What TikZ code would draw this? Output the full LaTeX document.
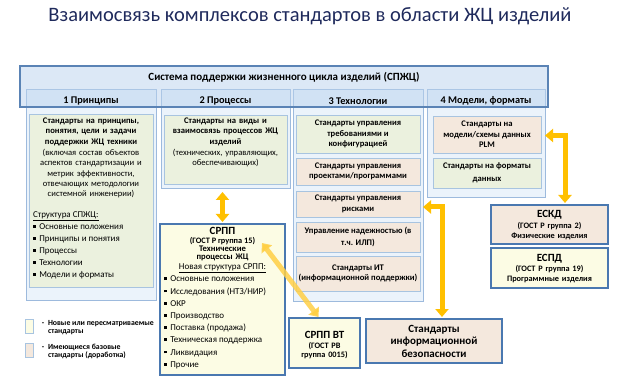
\documentclass[tikz,border=0pt]{standalone}
\usepackage{fontspec}
\setmainfont{Carlito}
\usetikzlibrary{arrows.meta}
\definecolor{navy}{HTML}{1F2A5C}
\definecolor{colfill}{HTML}{EBF3FB}
\definecolor{colborder}{HTML}{9DBADD}
\definecolor{bannerfill}{HTML}{B9D2EE}
\definecolor{bannerborder}{HTML}{5A83B5}
\definecolor{greenfill}{HTML}{EBF1DE}
\definecolor{innerborder}{HTML}{A8C4E0}
\definecolor{beigefill}{HTML}{F4E8DD}
\definecolor{yellowfill}{HTML}{FCFCE4}
\definecolor{thickborder}{HTML}{4A78B0}
\definecolor{gold}{HTML}{FFC000}
\definecolor{lightgold}{HTML}{FFCF45}
\newcommand{\blt}{\rule[0.18em]{2.8pt}{2.8pt}\hspace{3.5pt}}
\tikzset{
  base/.style={inner sep=0pt, outer sep=0pt, align=center},
  colbox/.style={base, draw=colborder, fill=colfill, line width=0.8pt},
  greenbox/.style={base, draw=innerborder, fill=greenfill, line width=0.7pt},
  beigebox/.style={base, draw=innerborder, fill=beigefill, line width=0.7pt},
  thickbox/.style={base, draw=thickborder, line width=1.6pt},
  body/.style={font=\fontsize{8.6}{10.6}\selectfont\bfseries},
  small/.style={font=\fontsize{8.3}{9.5}\selectfont\bfseries},
  big/.style={font=\fontsize{11}{13}\selectfont\bfseries},
  header/.style={base, font=\fontsize{10.3}{12}\selectfont\bfseries},
  goldarrow/.style={draw=gold, line width=5pt, {Triangle[width=13pt,length=8pt]}-{Triangle[width=13pt,length=8pt]}},
}
\begin{document}
\begin{tikzpicture}[x=1pt,y=-1pt]
\useasboundingbox (0,0) rectangle (624,390);
% title
\node[base, text=navy, font=\fontsize{20.5}{23}\selectfont] (title) at (310,16) {Взаимосвязь комплексов стандартов в области ЖЦ изделий};
% columns
\node[colbox, minimum width=130pt, minimum height=211pt] (col1) at (91,194.5) {};
\node[colbox, minimum width=129pt, minimum height=99pt] (col2) at (225.5,138.5) {};
\node[colbox, minimum width=130pt, minimum height=212pt] (col3) at (358,195) {};
\node[colbox, minimum width=118pt, minimum height=108pt] (col4) at (486,143) {};
% banner
\node[base, draw=bannerborder, fill=bannerfill, fill opacity=0.5, line width=1.2pt, minimum width=528pt, minimum height=41pt] (banner) at (284,86.5) {};
\node[base, font=\fontsize{11}{13}\selectfont\bfseries] (bannertext) at (284,77.5) {Система поддержки жизненного цикла изделий (СПЖЦ)};
% headers
\node[header] (h1) at (col1 |- 0,101) {1 Принципы};
\node[header] (h2) at (col2 |- 0,101) {2 Процессы};
\node[header] (h3) at (col3 |- 0,101) {3 Технологии};
\node[header] (h4) at (col4 |- 0,101) {4 Модели, форматы};
% column 1
\node[greenbox, minimum width=124pt, minimum height=173pt] (p1) at (91,200.5) {};
\node[base, anchor=north, text width=123pt, font=\fontsize{8.6}{10.3}\selectfont] (p1text) at (91,118)
  {\bfseries Стандарты на принципы,\\понятия, цели и задачи\\поддержки ЖЦ техники\\[1pt]
   \mdseries (включая состав объектов\\аспектов стандартизации и\\метрик эффективности,\\отвечающих методологии\\системной инженерии)};
\node[base, anchor=north west, align=left, font=\fontsize{9}{12}\selectfont] (p1list) at (33,211.5)
  {\underline{Структура СПЖЦ:}\\
   \blt Основные положения\\
   \blt Принципы и понятия\\
   \blt Процессы\\
   \blt Технологии\\
   \blt Модели и форматы};
% column 2
\node[greenbox, minimum width=123pt, minimum height=69pt] (p2) at (225.5,149.5) {};
\node[base, anchor=north, text width=122pt, font=\fontsize{8.6}{10.2}\selectfont] (p2text) at (225.5,118)
  {\bfseries Стандарты на виды и\\взаимосвязь процессов ЖЦ\\изделий\\[1.5pt]
   \mdseries (технических, управляющих,\\обеспечивающих)};
% column 3
\node[greenbox, body, minimum width=124pt, minimum height=38pt] (t1) at (358,134) {Стандарты управления\\требованиями и\\конфигурацией};
\node[beigebox, body, minimum width=124pt, minimum height=27pt] (t2) at (358,171.5) {Стандарты управления\\проектами/программами};
\node[beigebox, body, minimum width=124pt, minimum height=26pt] (t3) at (358,204) {Стандарты управления\\рисками};
\node[beigebox, font=\fontsize{8.6}{12}\selectfont\bfseries, minimum width=124pt, minimum height=30pt] (t4) at (358,237) {Управление надежностью (в\\т.ч. ИЛП)};
\node[beigebox, body, minimum width=124pt, minimum height=35pt] (t5) at (358,273.5) {Стандарты ИТ\\(информационной поддержки)};
% column 4
\node[beigebox, body, minimum width=108pt, minimum height=37pt] (m1) at (487,134.5) {Стандарты на\\модели/схемы данных\\PLM};
\node[greenbox, font=\fontsize{8.6}{12.5}\selectfont\bfseries, minimum width=108pt, minimum height=30pt] (m2) at (487,173) {Стандарты на форматы\\данных};
% SRPP
\node[thickbox, fill=yellowfill, minimum width=125pt, minimum height=151pt] (srpp) at (222.5,299.5) {};
\node[base, big] (srppT) at (222.5,231) {СРПП};
\node[base, small] (srppG) at (222.5,241.5) {(ГОСТ Р группа 15)};
\node[base, text width=80pt, font=\fontsize{8.6}{8.4}\selectfont\bfseries] (srppP) at (222.5,253.5) {Технические\\процессы ЖЦ};
\node[base, font=\fontsize{9}{10}\selectfont] (srppN) at (222.5,268.5) {\underline{Новая структура СРПП:}};
\node[base, anchor=north west, align=left, font=\fontsize{9}{12.2}\selectfont] (srppL) at (164,276)
  {\blt Основные положения\\
   \blt Исследования (НТЗ/НИР)\\
   \blt ОКР\\
   \blt Производство\\
   \blt Поставка (продажа)\\
   \blt Техническая поддержка\\
   \blt Ликвидация\\
   \blt Прочие};
% ESKD / ESPD
\node[thickbox, fill=beigefill, minimum width=117pt, minimum height=39pt] (eskd) at (549.5,224.5) {};
\node[base, big] (eskdT) at (549.5,215) {ЕСКД};
\node[base, text width=110pt, font=\fontsize{8.3}{10}\selectfont\bfseries] (eskdS) at (549.5,231.5) {(ГОСТ Р группа 2)\\Физические изделия};
\node[thickbox, fill=yellowfill, minimum width=117pt, minimum height=40pt] (espd) at (549.5,268) {};
\node[base, big] (espdT) at (549.5,258.5) {ЕСПД};
\node[base, text width=110pt, font=\fontsize{8.3}{10}\selectfont\bfseries] (espdS) at (549.5,274.5) {(ГОСТ Р группа 19)\\Программные изделия};
% SRPP VT
\node[thickbox, fill=yellowfill, minimum width=71pt, minimum height=50pt] (srppvt) at (324.5,343) {};
\node[base, big] (vtT) at (324.5,335) {СРПП ВТ};
\node[base, text width=68pt, font=\fontsize{8.3}{9.2}\selectfont\bfseries] (vtS) at (324.5,350.5) {(ГОСТ РВ\\группа 0015)};
% info security
\node[thickbox, fill=beigefill, font=\fontsize{11}{12.5}\selectfont\bfseries, minimum width=136pt, minimum height=44pt] (infosec) at (434,341) {Стандарты\\информационной\\безопасности};
% legend
\node[base, draw=innerborder, fill=yellowfill, line width=0.8pt, minimum width=8pt, minimum height=14pt] (leg1) at (29,326) {};
\node[base, draw=innerborder, fill=beigefill, line width=0.8pt, minimum width=8pt, minimum height=14pt] (leg2) at (29,350) {};
\node[base, font=\fontsize{7.8}{8}\selectfont\bfseries] (leg1d) at (43,324) {-};
\node[base, font=\fontsize{7.8}{8}\selectfont\bfseries] (leg2d) at (43,348) {-};
\node[base, anchor=north west, align=left, font=\fontsize{7.8}{8.3}\selectfont\bfseries] (leg1t) at (48,320) {Новые или пересматриваемые\\стандарты};
\node[base, anchor=north west, align=left, font=\fontsize{7.8}{8.3}\selectfont\bfseries] (leg2t) at (48,344) {Имеющиеся базовые\\стандарты (доработка)};
% arrows
\draw[goldarrow] ([yshift=-4pt]col2.south -| srpp.north) -- ([yshift=2pt]srpp.north);
\coordinate (dA) at (262,243);
\draw[draw=lightgold, draw opacity=0.85, line width=5pt, {Triangle[width=13pt,length=8pt]}-{Triangle[width=13pt,length=8pt]}] (dA) -- ([xshift=-6pt,yshift=1pt]srppvt.north);
\draw[goldarrow] ([yshift=-3pt]col3.east |- t3.east) -| ([xshift=8pt,yshift=2pt]infosec.north);
\draw[goldarrow] ([yshift=-1pt]col4.east |- m1.east) -| ([xshift=15.5pt,yshift=2pt]eskd.north);
\end{tikzpicture}
\end{document}
